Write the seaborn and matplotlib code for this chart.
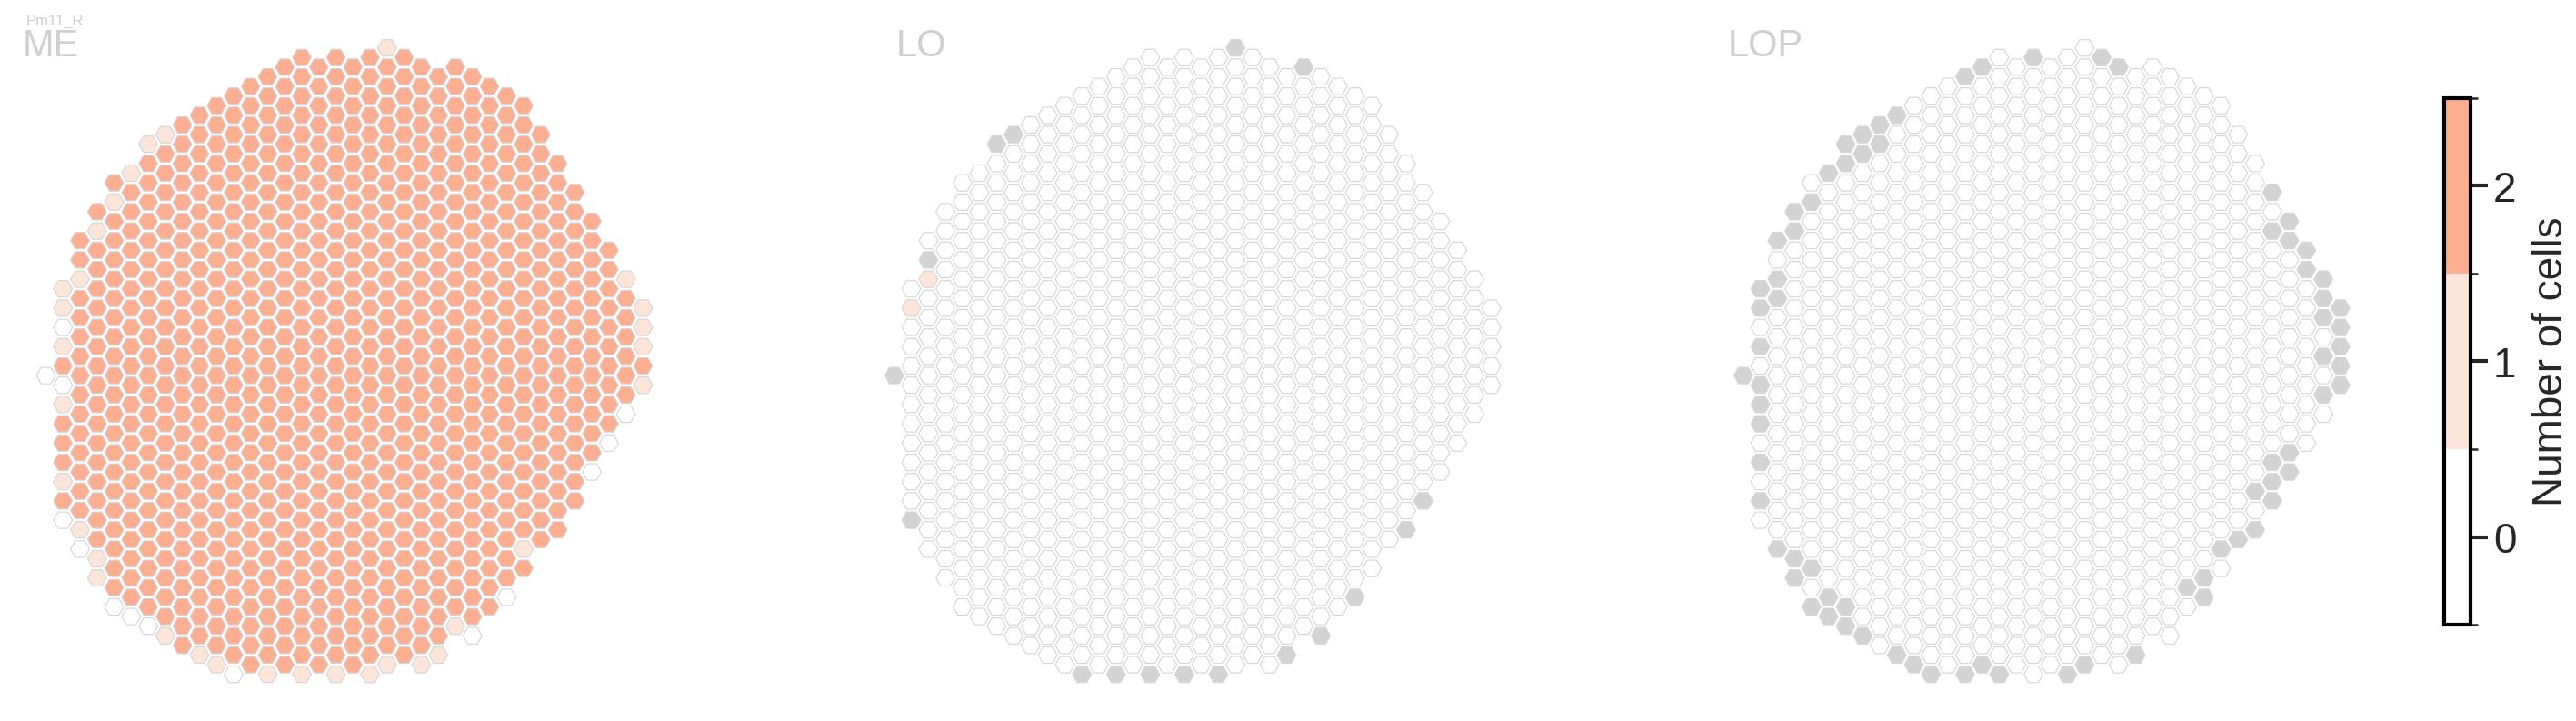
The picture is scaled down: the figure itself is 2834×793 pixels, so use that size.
import matplotlib
matplotlib.use("Agg")
import matplotlib.pyplot as plt
import pandas as pd
import seaborn as sns
from matplotlib.colors import ListedColormap, BoundaryNorm
from matplotlib.cm import ScalarMappable

# column grid: first / last row of every column (rows counted in half-steps)
col_top = [34, 25, 20, 17, 14, 13, 10, 9, 8, 7, 6, 5, 4, 3, 2, 1, 2, 1,
           2, 1, 0, 1, 2, 3, 2, 3, 4, 5, 6, 9, 12, 15, 18, 21, 24, 27]
col_bottom = [34, 49, 52, 55, 58, 59, 60, 61, 62, 63, 64, 65, 64, 65, 64, 65, 64, 65,
              64, 65, 64, 63, 64, 63, 60, 61, 58, 57, 54, 51, 50, 47, 44, 41, 38, 35]

# ME: every column holds 2 cells except these
me_one = [(1, 25), (1, 27), (1, 31), (1, 37), (1, 45), (2, 24), (2, 50), (3, 19),
          (3, 53), (3, 55), (4, 16), (5, 13), (6, 10), (7, 9), (7, 61), (9, 63),
          (10, 64), (13, 65), (15, 65), (17, 65), (19, 65), (20, 0), (20, 64),
          (22, 64), (23, 63), (24, 60), (28, 52), (34, 24), (35, 27), (35, 29),
          (35, 31), (35, 35)]
me_zero = [(0, 34), (1, 29), (1, 35), (1, 49), (2, 52), (4, 58), (5, 59), (6, 60),
           (11, 65), (25, 61), (27, 57), (32, 44), (33, 41), (34, 38)]

# LO: every column holds 0 cells except these
lo_one = [(2, 24), (1, 27)]
lo_missing = [(20, 0), (24, 2), (7, 9), (6, 10), (2, 22), (0, 34), (1, 49), (11, 65),
              (13, 65), (15, 65), (17, 65), (19, 65), (23, 63), (25, 61), (27, 57),
              (30, 50), (31, 47)]

# LOP: every column holds 0 cells, grey ones are missing
lop_missing = [(21, 1), (22, 2), (17, 1), (14, 2), (13, 3), (9, 7), (8, 8), (8, 10),
               (7, 9), (7, 11), (6, 10), (6, 12), (5, 13), (4, 16), (3, 17), (3, 19),
               (2, 20), (2, 24), (2, 26), (1, 25), (1, 27), (1, 31), (0, 34), (1, 35),
               (1, 37), (1, 39), (1, 43), (1, 47), (2, 52), (3, 53), (3, 55), (4, 54),
               (4, 58), (5, 57), (5, 59), (6, 58), (6, 60), (7, 61), (9, 63), (10, 64),
               (11, 65), (13, 65), (14, 64), (15, 65), (19, 65), (20, 64), (23, 63),
               (31, 15), (31, 19), (32, 18), (32, 20), (33, 21), (33, 23), (34, 24),
               (34, 26), (34, 28), (34, 32), (35, 27), (35, 29), (35, 31), (35, 33),
               (35, 35), (34, 36), (32, 42), (31, 43), (32, 44), (31, 45), (30, 46),
               (31, 47), (30, 50), (29, 51), (28, 52), (27, 55), (26, 56), (27, 57)]

cell_type = "Pm11_R"
panel_names = ["ME", "LO", "LOP"]

cells = []
for c, (t, b) in enumerate(zip(col_top, col_bottom)):
    for r in range(t, b + 1, 2):
        cells.append((c, r))
grid = pd.DataFrame(cells, columns=["col", "row"])


def panel_frame(default, one=(), zero=(), missing=()):
    lookup = {}
    for k in one:
        lookup[k] = "1"
    for k in zero:
        lookup[k] = "0"
    for k in missing:
        lookup[k] = "nan"
    df = grid.copy()
    df["count"] = [lookup.get((c, r), default) for c, r in zip(df.col, df.row)]
    return df


frames = {
    "ME": panel_frame("2", one=me_one, zero=me_zero),
    "LO": panel_frame("0", one=lo_one, missing=lo_missing),
    "LOP": panel_frame("0", missing=lop_missing),
}

colors = ["#ffffff", "#fee5d9", "#fcae91"]
palette = {"0": colors[0], "1": colors[1], "2": colors[2], "nan": "#d3d3d3"}

sns.set_style("white")
plt.rcParams["font.family"] = ["Liberation Sans", "DejaVu Sans"]

W, H, DPI = 2834, 793, 300
fig = plt.figure(figsize=(W / DPI, H / DPI), dpi=DPI)

# pixel layout of the three hex maps
x_first = {"ME": 50.5, "LO": 983.8, "LOP": 1917.9}
title_x = {"ME": 25, "LO": 986, "LOP": 1901}
dx, y_first, dy = 18.77, 52.7, 10.6
pad = 40

for name in panel_names:
    x0 = x_first[name]
    ax = fig.add_axes([(x0 - pad) / W, 0, (35 * dx + 2 * pad) / W, 1])
    sns.scatterplot(data=frames[name], x="col", y="row", hue="count",
                    palette=palette, hue_order=["0", "1", "2", "nan"],
                    marker="H", s=25, edgecolor="#d6d6d6", linewidth=0.28,
                    legend=False, ax=ax, clip_on=False)
    ax.set_xlim(-pad / dx, 35 + pad / dx)
    ax.set_ylim((H - y_first) / dy, -y_first / dy)
    ax.set_axis_off()
    fig.text(title_x[name] / W, 1 - 62 / H, name, fontsize=10,
             color="#cfcfcf", va="baseline", ha="left")

fig.text(29 / W, 1 - 28 / H, cell_type, fontsize=4, color="#cfcfcf",
         va="baseline", ha="left")

# discrete colour bar
cax = fig.add_axes([2689 / W, 1 - 687 / H, 29 / W, (687 - 108) / H])
norm = BoundaryNorm([-0.5, 0.5, 1.5, 2.5], 3)
sm = ScalarMappable(norm=norm, cmap=ListedColormap(colors))
cb = fig.colorbar(sm, cax=cax, ticks=[0, 1, 2])
cb.outline.set_linewidth(1.0)
cb.outline.set_edgecolor("black")
cb.ax.tick_params(labelsize=11, length=4.5, width=1, pad=1.5)
cb.set_label("Number of cells", fontsize=11)

fig.savefig("out.png", dpi=DPI)
